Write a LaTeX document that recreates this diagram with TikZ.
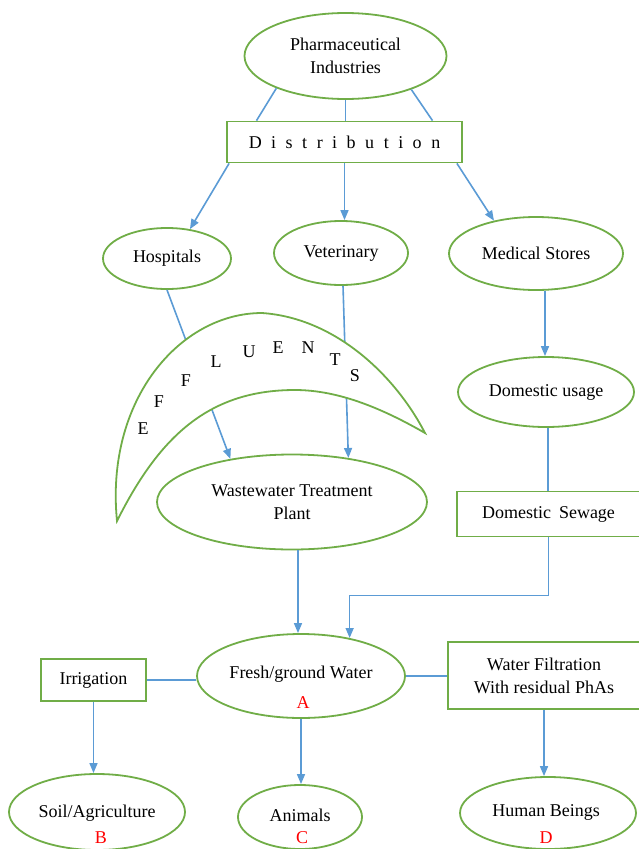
\documentclass[tikz,border=0pt]{standalone}
\usepackage{fontspec}
\setmainfont{Liberation Serif}
\usetikzlibrary{shapes.geometric,arrows.meta,calc}
\definecolor{grn}{HTML}{70AD47}
\definecolor{blu}{HTML}{5B9BD5}
\begin{document}
\begin{tikzpicture}[x=1pt,y=-1pt,
  font=\fontsize{18}{23}\selectfont,
  ell/.style={draw=grn, line width=1.8pt, ellipse, inner sep=0pt, align=center},
  box/.style={draw=grn, line width=1.8pt, rectangle, inner sep=0pt, align=center},
  conn/.style={draw=blu, line width=1.6pt},
  arr/.style={conn, -{Triangle[length=10pt,width=8pt]}},
  lett/.style={inner sep=0pt},
  redl/.style={inner sep=0pt, text=red}]
\useasboundingbox (0,0) rectangle (639,849);

% nodes
\node[ell, minimum width=202pt, minimum height=86pt] (pharma) at (345.5,56) {Pharmaceutical\\Industries};
\node[box, minimum width=235pt, minimum height=41pt] (dist) at (344.5,142)
  {D\hspace{9.5pt}i\hspace{9.5pt}s\hspace{9.5pt}t\hspace{9.5pt}r\hspace{9.5pt}i\hspace{9.5pt}b\hspace{9.5pt}u\hspace{9.5pt}t\hspace{9.5pt}i\hspace{9.5pt}o\hspace{9.5pt}n};
\node[ell, minimum width=128pt, minimum height=61pt] (hosp) at (167,258.5) {Hospitals};
\node[ell, minimum width=134pt, minimum height=64pt] (vet) at (341,253) {Veterinary};
\node[ell, minimum width=174pt, minimum height=73pt] (med) at (536,253.5) {Medical Stores};
\node[ell, minimum width=176pt, minimum height=70pt] (domu) at (546,392) {Domestic usage};
\node[box, minimum width=183pt, minimum height=45pt] (sewage) at (548.5,514) {Domestic\hspace{8pt}Sewage};
\node[ell, minimum width=270pt, minimum height=95pt] (wtp) at (292,502) {Wastewater Treatment\\Plant};
\node[ell, minimum width=208pt, minimum height=84pt] (fresh) at (301,676) {};
\node[lett] (freshtxt) at (301,674) {Fresh/ground Water};
\node[redl] (la) at (303,703) {A};
\node[box, minimum width=105pt, minimum height=42pt] (irr) at (93.5,680) {Irrigation};
\node[box, minimum width=192pt, minimum height=67pt] (filt) at (544,675.5) {Water Filtration\\With residual PhAs};
\node[ell, minimum width=176pt, minimum height=76pt] (soil) at (97,812) {};
\node[lett] (soiltxt) at (97,813) {Soil/Agriculture};
\node[redl] (lb) at (101,838) {B};
\node[ell, minimum width=124pt, minimum height=64pt] (anim) at (300,817) {};
\node[lett] (animtxt) at (300,815) {Animals};
\node[redl] (lc) at (302,838) {C};
\node[ell, minimum width=176pt, minimum height=72pt] (human) at (548,813) {};
\node[lett] (humantxt) at (546,812) {Human Beings};
\node[redl] (ld) at (546,838) {D};

% helper points on node borders
\coordinate (medout) at ($(med.south)+(9,0)$);
\coordinate (domuout) at ($(domu.south)+(2,0)$);
\coordinate (wtpout) at ($(wtp.south)+(6,0)$);
\coordinate (vetout) at ($(vet.south)+(2,0)$);
\coordinate (distl) at ($(dist.north)+(-88,0)$);
\coordinate (distr) at ($(dist.north)+(88,0)$);
\coordinate (distbl) at ($(dist.south west)+(3,0)$);
\coordinate (distbr) at ($(dist.south east)+(-6,0)$);
\coordinate (sewturn) at ($(sewage.south)+(0,58)$);

% connectors
\draw[conn] (pharma.205) -- (distl);
\draw[conn] (pharma.south) -- (pharma.south |- dist.north);
\draw[conn] (pharma.333) -- (distr);
\draw[arr] (distbl) -- (hosp.52);
\draw[arr] (dist.south) -- (dist.south |- vet.north);
\draw[arr] (distbr) -- (med.142);
\draw[arr] (hosp.south) -- (wtp.145);
\draw[arr] (vetout) -- (wtp.38);
\draw[arr] (medout) -- (medout |- domu.north);
\draw[conn] (domuout) -- (domuout |- sewage.north);
\draw[arr] (sewage.south) -- (sewturn) -| (fresh.38);
\draw[arr] (wtpout) -- (wtpout |- fresh.north);
\draw[conn] (irr.east) -- (irr.east -| fresh.west);
\draw[conn] (fresh.east) -- (fresh.east -| filt.west);
\draw[arr] (irr.south) -- (irr.south |- soil.north);
\draw[arr] (fresh.south) -- (fresh.south |- anim.north);
\draw[arr] (filt.south) -- (filt.south |- human.north);

% crescent of effluents
\filldraw[draw=grn, line width=1.8pt, fill=white]
  (117,521) .. controls (105,400) and (180,313) .. (262,313)
  .. controls (335,318) and (395,375) .. (425,433)
  .. controls (385,410) and (340,390) .. (295,390)
  .. controls (210,390) and (160,435) .. (117,521) -- cycle;
\node[lett] (e1) at (143,429) {E};
\node[lett] (e2) at (159,402) {F};
\node[lett] (e3) at (186,381) {F};
\node[lett] (e4) at (216,362) {L};
\node[lett] (e5) at (249,352) {U};
\node[lett] (e6) at (278,348) {E};
\node[lett] (e7) at (308,348) {N};
\node[lett] (e8) at (335,360) {T};
\node[lett] (e9) at (355,376) {S};
\end{tikzpicture}
\end{document}
